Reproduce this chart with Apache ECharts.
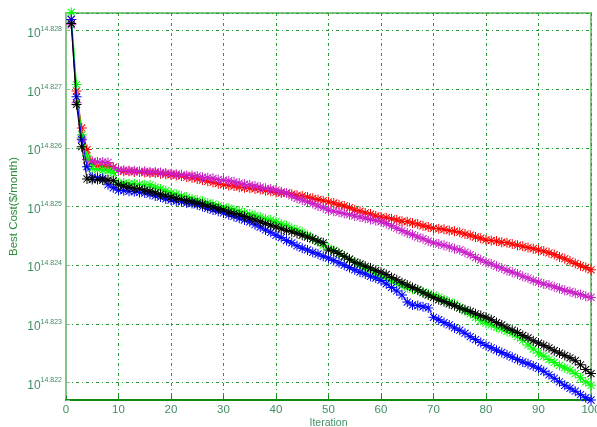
<!DOCTYPE html>
<html>
<head>
<meta charset="utf-8">
<script src="https://cdn.jsdelivr.net/npm/echarts@6/dist/echarts.min.js"></script>
<style>
  html, body { margin: 0; padding: 0; background: #fff; }
  #chart { width: 597px; height: 427px; }
</style>
</head>
<body>
<div id="chart"></div>
<script>
  // best cost per iteration, as log10 exponent (axis shows 10^x)
  var redCost = [14.82819,14.82697,14.82634,14.82597,14.82574,14.82569,14.82569,14.82568,14.82567,14.82562,
    14.82560,14.82560,14.82559,14.82559,14.82558,14.82557,14.82557,14.82556,14.82555,14.82554,
    14.82553,14.82552,14.82550,14.82549,14.82547,14.82545,14.82543,14.82541,14.82539,14.82537,
    14.82536,14.82535,14.82533,14.82532,14.82531,14.82530,14.82529,14.82527,14.82526,14.82524,
    14.82523,14.82523,14.82521,14.82519,14.82518,14.82516,14.82514,14.82512,14.82510,14.82508,
    14.82506,14.82503,14.82501,14.82498,14.82494,14.82492,14.82489,14.82487,14.82484,14.82482,
    14.82481,14.82479,14.82477,14.82475,14.82474,14.82472,14.82470,14.82467,14.82465,14.82463,
    14.82462,14.82461,14.82459,14.82458,14.82456,14.82453,14.82451,14.82448,14.82446,14.82443,
    14.82442,14.82441,14.82439,14.82438,14.82436,14.82434,14.82432,14.82430,14.82428,14.82426,
    14.82424,14.82421,14.82418,14.82414,14.82411,14.82407,14.82403,14.82399,14.82396,14.82392];
  var magentaCost = [14.82810,14.82677,14.82617,14.82580,14.82577,14.82576,14.82576,14.82575,14.82566,14.82562,
    14.82562,14.82561,14.82561,14.82560,14.82560,14.82559,14.82559,14.82558,14.82557,14.82556,
    14.82555,14.82554,14.82553,14.82553,14.82552,14.82550,14.82549,14.82548,14.82546,14.82545,
    14.82544,14.82542,14.82540,14.82538,14.82537,14.82535,14.82533,14.82531,14.82530,14.82528,
    14.82525,14.82523,14.82518,14.82514,14.82511,14.82508,14.82505,14.82501,14.82498,14.82494,
    14.82492,14.82490,14.82488,14.82486,14.82484,14.82482,14.82480,14.82478,14.82476,14.82474,
    14.82471,14.82467,14.82463,14.82459,14.82455,14.82452,14.82448,14.82445,14.82441,14.82438,
    14.82436,14.82434,14.82431,14.82428,14.82426,14.82422,14.82418,14.82413,14.82409,14.82405,
    14.82402,14.82398,14.82395,14.82391,14.82388,14.82385,14.82381,14.82378,14.82374,14.82371,
    14.82368,14.82366,14.82363,14.82360,14.82357,14.82355,14.82352,14.82350,14.82347,14.82345];
  var greenCost = [14.82831,14.82708,14.82622,14.82586,14.82565,14.82563,14.82562,14.82561,14.82558,14.82540,
    14.82540,14.82539,14.82539,14.82538,14.82537,14.82537,14.82533,14.82530,14.82527,14.82523,
    14.82521,14.82518,14.82516,14.82513,14.82511,14.82509,14.82506,14.82504,14.82501,14.82499,
    14.82497,14.82494,14.82492,14.82489,14.82487,14.82485,14.82482,14.82479,14.82477,14.82474,
    14.82470,14.82467,14.82463,14.82460,14.82456,14.82451,14.82445,14.82440,14.82434,14.82429,
    14.82425,14.82420,14.82415,14.82410,14.82405,14.82400,14.82395,14.82390,14.82385,14.82380,
    14.82377,14.82373,14.82369,14.82366,14.82362,14.82359,14.82357,14.82354,14.82351,14.82349,
    14.82345,14.82341,14.82337,14.82334,14.82328,14.82322,14.82317,14.82311,14.82306,14.82301,
    14.82298,14.82294,14.82291,14.82287,14.82284,14.82278,14.82272,14.82264,14.82257,14.82250,
    14.82245,14.82239,14.82234,14.82229,14.82225,14.82221,14.82215,14.82208,14.82201,14.82195];
  var blueCost = [14.82819,14.82687,14.82614,14.82568,14.82550,14.82549,14.82548,14.82537,14.82532,14.82528,
    14.82527,14.82526,14.82525,14.82524,14.82523,14.82521,14.82518,14.82516,14.82513,14.82511,
    14.82509,14.82508,14.82506,14.82505,14.82503,14.82500,14.82497,14.82494,14.82492,14.82489,
    14.82486,14.82483,14.82480,14.82477,14.82474,14.82469,14.82465,14.82460,14.82456,14.82451,
    14.82447,14.82442,14.82438,14.82433,14.82429,14.82426,14.82422,14.82419,14.82415,14.82412,
    14.82408,14.82404,14.82400,14.82396,14.82392,14.82388,14.82385,14.82381,14.82378,14.82374,
    14.82368,14.82362,14.82356,14.82349,14.82337,14.82332,14.82331,14.82329,14.82327,14.82311,
    14.82307,14.82302,14.82298,14.82293,14.82289,14.82284,14.82278,14.82273,14.82268,14.82263,
    14.82259,14.82255,14.82251,14.82247,14.82243,14.82239,14.82235,14.82232,14.82228,14.82224,
    14.82219,14.82213,14.82207,14.82201,14.82195,14.82190,14.82185,14.82179,14.82174,14.82170];
  var blackCost = [14.82812,14.82674,14.82602,14.82547,14.82546,14.82546,14.82545,14.82545,14.82544,14.82537,
    14.82535,14.82533,14.82531,14.82530,14.82528,14.82526,14.82523,14.82521,14.82518,14.82516,
    14.82514,14.82512,14.82510,14.82508,14.82506,14.82504,14.82501,14.82499,14.82496,14.82494,
    14.82491,14.82488,14.82486,14.82483,14.82480,14.82477,14.82474,14.82471,14.82468,14.82465,
    14.82462,14.82459,14.82457,14.82454,14.82451,14.82448,14.82445,14.82441,14.82438,14.82426,
    14.82424,14.82420,14.82415,14.82410,14.82405,14.82402,14.82398,14.82395,14.82391,14.82388,
    14.82384,14.82379,14.82375,14.82370,14.82366,14.82362,14.82358,14.82353,14.82349,14.82345,
    14.82341,14.82338,14.82334,14.82331,14.82327,14.82324,14.82321,14.82317,14.82314,14.82311,
    14.82307,14.82302,14.82298,14.82293,14.82289,14.82285,14.82280,14.82276,14.82271,14.82267,
    14.82263,14.82259,14.82254,14.82250,14.82246,14.82242,14.82237,14.82230,14.82222,14.82215];

  var seriesColors = ['#ff0000', '#c81ec8', '#00ff00', '#0000ff', '#000000'];
  var seriesData = [redCost, magentaCost, greenCost, blueCost, blackCost];

  var labelColor = '#3f8f63';
  var gridColor = '#2a9a35';
  // MATLAB style '*' marker
  var star = 'path://M9,0H11V20H9Z M0,9H20V11H0Z M2.2,3.6L3.6,2.2L17.8,16.4L16.4,17.8Z M16.4,2.2L17.8,3.6L3.6,17.8L2.2,16.4Z';

  var myChart = echarts.init(document.getElementById('chart'));

  var series = seriesData.map(function (arr, k) {
    return {
      type: 'line',
      data: arr.map(function (v, i) { return [i + 1, v]; }),
      symbol: star,
      symbolSize: 10,
      showAllSymbol: true,
      clip: false,
      lineStyle: { color: seriesColors[k], width: 1 },
      itemStyle: { color: seriesColors[k], borderWidth: 0 },
      emphasis: { disabled: true },
      z: 2 + k
    };
  });

  var option = {
    animation: false,
    grid: {
      left: 66, right: 6, top: 13, bottom: 27,
      outerBoundsMode: 'none',
      containLabel: false,
      show: true, borderColor: '#84c484', borderWidth: 2
    },
    xAxis: {
      type: 'value',
      min: 0, max: 100, interval: 10,
      name: 'Iteration',
      nameLocation: 'middle',
      nameGap: 18,
      nameMoveOverlap: false,
      nameTextStyle: { color: labelColor, fontSize: 10.5, fontFamily: 'Liberation Sans', verticalAlign: 'top' },
      axisLine: { lineStyle: { color: '#108a10', width: 2 } },
      axisTick: { inside: true, length: 4, lineStyle: { color: '#108a10' } },
      axisLabel: { color: labelColor, fontSize: 11.5, margin: 4, fontFamily: 'Liberation Sans' },
      splitLine: { lineStyle: { color: gridColor, type: [3, 3, 1, 3], width: 1 } }
    },
    yAxis: {
      type: 'value',
      min: 14.8217, max: 14.8283,
      name: 'Best Cost($/month)',
      nameLocation: 'middle',
      nameGap: 46,
      nameMoveOverlap: false,
      nameTextStyle: { color: '#2e8e3a', fontSize: 11.5, fontFamily: 'Liberation Sans' },
      axisLine: { lineStyle: { color: '#84c484', width: 2 } },
      axisTick: { inside: true, length: 4, lineStyle: { color: '#84c484' } },
      axisLabel: {
        margin: 4,
        formatter: function (v) {
          var k = Math.round(v * 1000);
          if (Math.abs(v * 1000 - k) > 1e-4) return '';
          return '{b|10}{e|' + (k / 1000).toFixed(3) + '}';
        },
        rich: {
          b: { color: labelColor, fontSize: 12, fontFamily: 'Liberation Sans', padding: [6, 0, 0, 0] },
          e: { color: labelColor, fontSize: 7, fontFamily: 'Liberation Sans', padding: [0, 0, 4, 0] }
        }
      },
      splitLine: { lineStyle: { color: gridColor, type: [3, 3, 1, 3], width: 1 } }
    },
    series: series
  };
  myChart.setOption(option);
</script>
</body>
</html>
